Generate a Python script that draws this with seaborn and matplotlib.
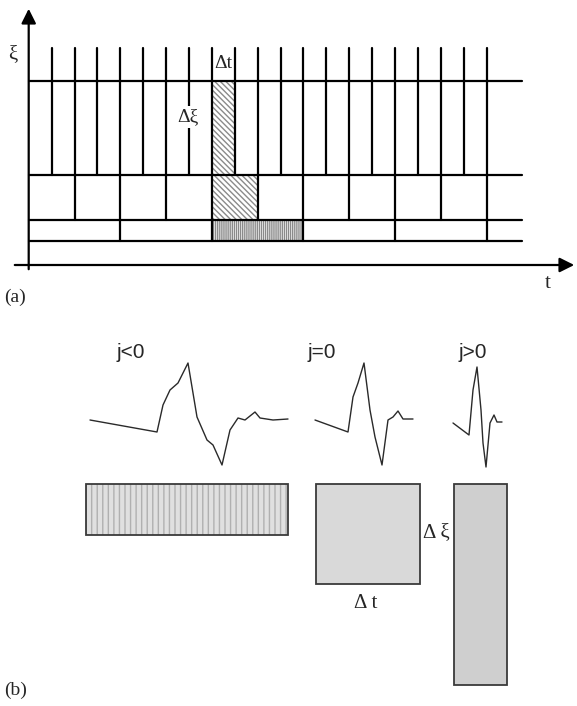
import numpy as np
import pandas as pd
import seaborn as sns
import matplotlib
matplotlib.use("Agg")
import matplotlib.pyplot as plt
from matplotlib.patches import Rectangle

sns.set_theme(style="white")
plt.rcParams['font.family'] = ['Liberation Serif', 'DejaVu Serif']

# ---------------- data (pixel-space diagram) ----------------
# panel (a): tiling grid
grid_levels_y = [81, 175, 220, 241]          # horizontal line heights (top -> bottom)
n_cells = 20                                  # vertical lines k = 1..20
cell_w = 22.9
origin_x = 28.7
top_y = 48
# highlighted boxes: (k_start, k_end, y_top, y_bottom, hatch)
boxes_a_k0 = [8, 8, 8]
boxes_a_k1 = [9, 10, 12]
boxes_a_y0 = [81, 175, 220]
boxes_a_y1 = [175, 220, 241]
boxes_a_hatch = ['\\\\\\\\\\\\', '\\\\\\\\\\\\', '||||||||']

# panel (b): wavelets
wave_neg_x = [90, 157, 163, 170, 178, 188, 197, 207, 213, 222, 230, 238, 245, 255, 260, 273, 288]
wave_neg_y = [420, 432, 405, 390, 383, 363, 417, 440, 445, 465, 430, 418, 420, 412, 418, 420, 419]
wave_zero_x = [315, 348, 353, 358, 364, 370, 375, 382, 388, 393, 398, 403, 413]
wave_zero_y = [420, 432, 397, 383, 363, 410, 437, 465, 420, 417, 411, 419, 419]
wave_pos_x = [453, 469, 473, 477, 481, 483, 486, 490, 494, 497, 502]
wave_pos_y = [423, 435, 390, 367, 410, 443, 467, 423, 415, 422, 422]
wave_labels = ['j<0', 'j=0', 'j>0']
wave_label_x = [131, 322, 473]

# panel (b): time-frequency boxes (x0, y0, x1, y1)
rect_x0 = [86, 316, 454]
rect_y0 = [484, 484, 484]
rect_x1 = [288, 420, 507]
rect_y1 = [535, 584, 685]

# ---------------- figure ----------------
fig = plt.figure(figsize=(5.77, 7.06), dpi=100)
ax = fig.add_axes([0, 0, 1, 1])

lw = 1.6
right_end = 522

# hatched boxes first
for k0, k1, y0, y1, h in zip(boxes_a_k0, boxes_a_k1, boxes_a_y0, boxes_a_y1, boxes_a_hatch):
    x0 = origin_x + k0 * cell_w
    x1 = origin_x + k1 * cell_w
    ax.add_patch(Rectangle((x0, y0), x1 - x0, y1 - y0, facecolor='white',
                           edgecolor='#8a8a8a', hatch=h, linewidth=0, zorder=1))

# horizontal lines
for y in grid_levels_y:
    ax.plot([origin_x, right_end], [y, y], color='black', lw=lw, zorder=3)

# vertical lines
for k in range(1, n_cells + 1):
    x = origin_x + k * cell_w
    if k % 4 == 0:
        yb = grid_levels_y[3]
    elif k % 2 == 0:
        yb = grid_levels_y[2]
    else:
        yb = grid_levels_y[1]
    ax.plot([x, x], [top_y, yb], color='black', lw=lw, zorder=3)

# axes arrows
ax.annotate('', xy=(origin_x, 6), xytext=(origin_x, 272),
            arrowprops=dict(arrowstyle='-|>', lw=lw, color='black', mutation_scale=22), zorder=4)
ax.annotate('', xy=(577, 265), xytext=(12, 265),
            arrowprops=dict(arrowstyle='-|>', lw=lw, color='black', mutation_scale=22), zorder=4)

# labels panel a
ax.text(13, 55, 'ξ', fontsize=15, ha='center', va='center')
ax.text(548, 284, 't', fontsize=15, ha='center', va='center')
ax.text(4, 297, '(a)', fontsize=14, ha='left', va='center')
ax.text(223, 64, 'Δt', fontsize=14, ha='center', va='center', zorder=5)
ax.text(188, 117, 'Δξ', fontsize=14, ha='center', va='center', zorder=5,
        bbox=dict(facecolor='white', edgecolor='none', pad=1.5))

# panel b: wavelets via seaborn
for wx, wy in [(wave_neg_x, wave_neg_y), (wave_zero_x, wave_zero_y), (wave_pos_x, wave_pos_y)]:
    df = pd.DataFrame({'x': wx, 'y': wy})
    sns.lineplot(data=df, x='x', y='y', sort=False, estimator=None, color='#2a2a2a', lw=1.0, ax=ax)

for lab, lx in zip(wave_labels, wave_label_x):
    ax.text(lx, 353, lab, fontsize=15, ha='center', va='center', family=['Liberation Sans', 'DejaVu Sans'])

# boxes panel b
fills = ['#e0e0e0', '#d9d9d9', '#cfcfcf']
hatches = ['|||', None, None]
for x0, y0, x1, y1, fc, h in zip(rect_x0, rect_y0, rect_x1, rect_y1, fills, hatches):
    ax.add_patch(Rectangle((x0, y0), x1 - x0, y1 - y0, facecolor=fc, edgecolor='#b0b0b0',
                           hatch=h, linewidth=0, zorder=1))
    ax.add_patch(Rectangle((x0, y0), x1 - x0, y1 - y0, facecolor='none', edgecolor='#3a3a3a',
                           linewidth=1.3, zorder=2))

ax.text(436, 533, 'Δ ξ', fontsize=15, ha='center', va='center')
ax.text(366, 603, 'Δ t', fontsize=15, ha='center', va='center')
ax.text(4, 690, '(b)', fontsize=14, ha='left', va='center')

ax.set_xlim(0, 577)
ax.set_ylim(706, 0)
ax.axis('off')

fig.savefig('out.png', dpi=100)
